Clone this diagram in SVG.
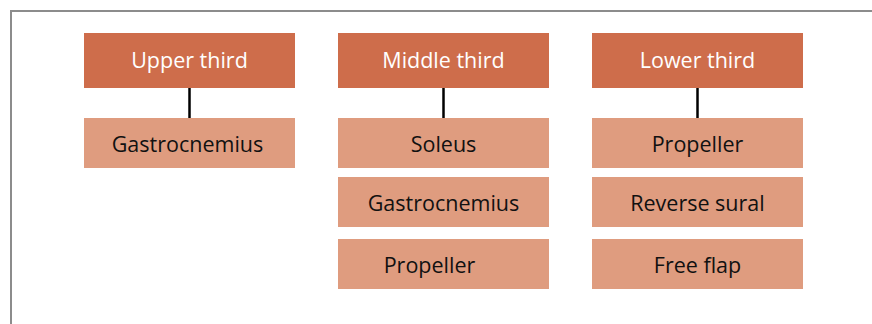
<svg xmlns="http://www.w3.org/2000/svg" width="872" height="324" viewBox="0 0 872 324">
<style>
.frame{fill:none;stroke:#8c8c8c;stroke-width:2}
.hd{fill:#CE6D4B}
.ch{fill:#DF9C7F}
.ht{fill:#ffffff;font-family:"Open Sans","Liberation Sans",sans-serif;font-size:21.5px;text-anchor:middle}
.ct{fill:#111111;font-family:"Open Sans","Liberation Sans",sans-serif;font-size:21.5px;text-anchor:middle}
.ln{stroke:#000;stroke-width:2.5;fill:none}
</style>
<rect width="872" height="324" fill="#ffffff"/>
<path class="frame" d="M11 324 V11 H872"/>
<g id="connectors">
<line class="ln" x1="189.5" y1="88" x2="189.5" y2="118"/>
<line class="ln" x1="443.5" y1="88" x2="443.5" y2="118"/>
<line class="ln" x1="697.5" y1="88" x2="697.5" y2="118"/>
</g>
<g id="upper-third"><rect class="hd" x="84" y="33" width="211" height="55"/><text class="ht" x="189.5" y="68">Upper third</text></g>
<g id="upper-gastrocnemius"><rect class="ch" x="84" y="118" width="211" height="50"/><text class="ct" x="187.5" y="151.5">Gastrocnemius</text></g>
<g id="middle-third"><rect class="hd" x="338" y="33" width="211" height="55"/><text class="ht" x="443.5" y="68">Middle third</text></g>
<g id="middle-soleus"><rect class="ch" x="338" y="118" width="211" height="50"/><text class="ct" x="443.5" y="151.5">Soleus</text></g>
<g id="middle-gastrocnemius"><rect class="ch" x="338" y="177" width="211" height="50"/><text class="ct" x="443.5" y="210.5">Gastrocnemius</text></g>
<g id="middle-propeller"><rect class="ch" x="338" y="239" width="211" height="50"/><text class="ct" x="429.5" y="273">Propeller</text></g>
<g id="lower-third"><rect class="hd" x="592" y="33" width="211" height="55"/><text class="ht" x="697.5" y="68">Lower third</text></g>
<g id="lower-propeller"><rect class="ch" x="592" y="118" width="211" height="50"/><text class="ct" x="697.5" y="151.5">Propeller</text></g>
<g id="lower-reverse-sural"><rect class="ch" x="592" y="177" width="211" height="50"/><text class="ct" x="697.5" y="210.5">Reverse sural</text></g>
<g id="lower-free-flap"><rect class="ch" x="592" y="239" width="211" height="50"/><text class="ct" x="697.5" y="273">Free flap</text></g>
</svg>
